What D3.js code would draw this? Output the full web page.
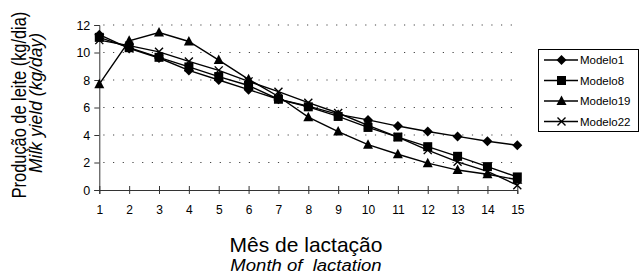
<!DOCTYPE html>
<head>
  <meta charset="utf-8">
  <title>Milk yield</title>
  <script src="https://cdn.jsdelivr.net/npm/d3@7"></script>
  <style>
    body { margin: 0; background: #fff; }
    text { font-family: "Liberation Sans", Arial, sans-serif; fill: #000; }
  </style>
</head>
<body>
<script>
  var WIDTH = 640, HEIGHT = 275;

  // data
  var months = [1, 2, 3, 4, 5, 6, 7, 8, 9, 10, 11, 12, 13, 14, 15];
  var modelo1  = [11.3, 10.3, 9.6, 8.7, 8.0, 7.3, 6.6, 6.1, 5.5, 5.1, 4.65, 4.25, 3.9, 3.55, 3.25];
  var modelo8  = [11.1, 10.35, 9.65, 8.95, 8.25, 7.6, 6.6, 6.05, 5.35, 4.55, 3.85, 3.15, 2.45, 1.7, 0.95];
  var modelo19 = [7.7, 10.85, 11.45, 10.8, 9.45, 8.05, 6.8, 5.3, 4.25, 3.3, 2.6, 1.95, 1.45, 1.15, 0.75];
  var modelo22 = [10.9, 10.5, 10.05, 9.35, 8.7, 7.9, 7.15, 6.35, 5.6, 4.7, 3.85, 2.9, 2.05, 1.35, 0.35];
  var yTicks = [0, 2, 4, 6, 8, 10, 12];

  var series = [
    { name: "Modelo1",  values: modelo1,  symbol: "diamond" },
    { name: "Modelo8",  values: modelo8,  symbol: "square" },
    { name: "Modelo19", values: modelo19, symbol: "triangle" },
    { name: "Modelo22", values: modelo22, symbol: "cross" }
  ];

  var svg = d3.select("body").append("svg")
              .attr("width", WIDTH)
              .attr("height", HEIGHT);

  var x = d3.scaleLinear().domain([1, 15]).range([99.3, 517.3]);
  var y = d3.scaleLinear().domain([0, 12]).range([190, 25]);

  // dotted gridlines
  svg.append("g").selectAll("line")
     .data(yTicks.slice(1))
     .enter().append("line")
     .attr("x1", x(1) + 4).attr("x2", 516)
     .attr("y1", function(d){ return y(d); })
     .attr("y2", function(d){ return y(d); })
     .attr("stroke", "#444")
     .attr("stroke-width", 1.2)
     .attr("stroke-dasharray", "1.2,8.5");

  // y axis
  var yAxis = svg.append("g")
     .attr("transform", "translate(" + x(1) + ",0)")
     .call(d3.axisLeft(y).tickValues(yTicks).tickSize(5).tickPadding(4));
  yAxis.select(".domain").attr("stroke", "#333");
  yAxis.selectAll(".tick line").attr("stroke", "#333");
  yAxis.selectAll("text").style("font-size", "12.5px").attr("fill", "#000");

  // x axis (ticks cross the line)
  var xAxis = svg.append("g")
     .attr("transform", "translate(0," + y(0) + ")")
     .call(d3.axisBottom(x).tickValues(months).tickSize(4).tickPadding(11).tickFormat(d3.format("d")));
  xAxis.select(".domain").attr("stroke", "#333");
  xAxis.selectAll(".tick line").attr("y1", -4).attr("stroke", "#333");
  xAxis.selectAll("text").style("font-size", "12px").attr("fill", "#000");

  // symbol drawing
  function marker(g, type) {
    if (type === "diamond") {
      g.append("path").attr("d", "M0,-5L5,0L0,5L-5,0Z").attr("fill", "#000");
    } else if (type === "square") {
      g.append("rect").attr("x", -4.5).attr("y", -4.5).attr("width", 9).attr("height", 9).attr("fill", "#000");
    } else if (type === "triangle") {
      g.append("path").attr("d", "M0,-5.5L5,4L-5,4Z").attr("fill", "#000");
    } else {
      g.append("path").attr("d", "M-4,-4L4,4M-4,4L4,-4")
       .attr("stroke", "#000").attr("stroke-width", 1.4).attr("fill", "none");
    }
  }

  var line = d3.line()
               .x(function(d, i){ return x(months[i]); })
               .y(function(d){ return y(d); });

  series.forEach(function(s) {
    var g = svg.append("g");
    g.append("path")
     .attr("d", line(s.values))
     .attr("fill", "none")
     .attr("stroke", "#000")
     .attr("stroke-width", 1.4);
    g.selectAll("g")
     .data(s.values)
     .enter().append("g")
     .attr("transform", function(d, i){ return "translate(" + x(months[i]) + "," + y(d) + ")"; })
     .each(function(){ marker(d3.select(this), s.symbol); });
  });

  // legend
  var legend = svg.append("g");
  legend.append("rect")
        .attr("x", 538.5).attr("y", 49.5)
        .attr("width", 100).attr("height", 82)
        .attr("fill", "#fff").attr("stroke", "#000").attr("stroke-width", 1);
  var item = legend.selectAll("g.item")
        .data(series)
        .enter().append("g")
        .attr("class", "item")
        .attr("transform", function(d, i){ return "translate(0," + (60 + i * 20.5) + ")"; });
  item.append("line")
      .attr("x1", 544).attr("x2", 578)
      .attr("stroke", "#000").attr("stroke-width", 1.4);
  item.append("g")
      .attr("transform", "translate(561.5,0)")
      .each(function(d){ marker(d3.select(this), d.symbol); });
  item.append("text")
      .attr("x", 580).attr("y", 4)
      .style("font-size", "11.5px")
      .text(function(d){ return d.name; });

  // axis titles (the source squeezes the long one along its length)
  svg.append("text")
     .attr("transform", "translate(26,105) rotate(-90) scale(0.82,1)")
     .attr("text-anchor", "middle")
     .style("font-size", "20px")
     .text("Produção de leite (kg/dia)");
  svg.append("text")
     .attr("transform", "translate(42,103) rotate(-90)")
     .attr("text-anchor", "middle")
     .style("font-size", "17.5px")
     .style("font-style", "italic")
     .text("Milk yield (kg/day)");

  svg.append("text")
     .attr("x", 306).attr("y", 251.5)
     .attr("text-anchor", "middle")
     .style("font-size", "21px")
     .text("Mês de lactação");
  svg.append("text")
     .attr("transform", "translate(306,270.5) scale(1.09,1)")
     .attr("text-anchor", "middle")
     .style("font-size", "17px")
     .style("font-style", "italic")
     .style("white-space", "pre")
     .text("Month of  lactation");
</script>
</body>
